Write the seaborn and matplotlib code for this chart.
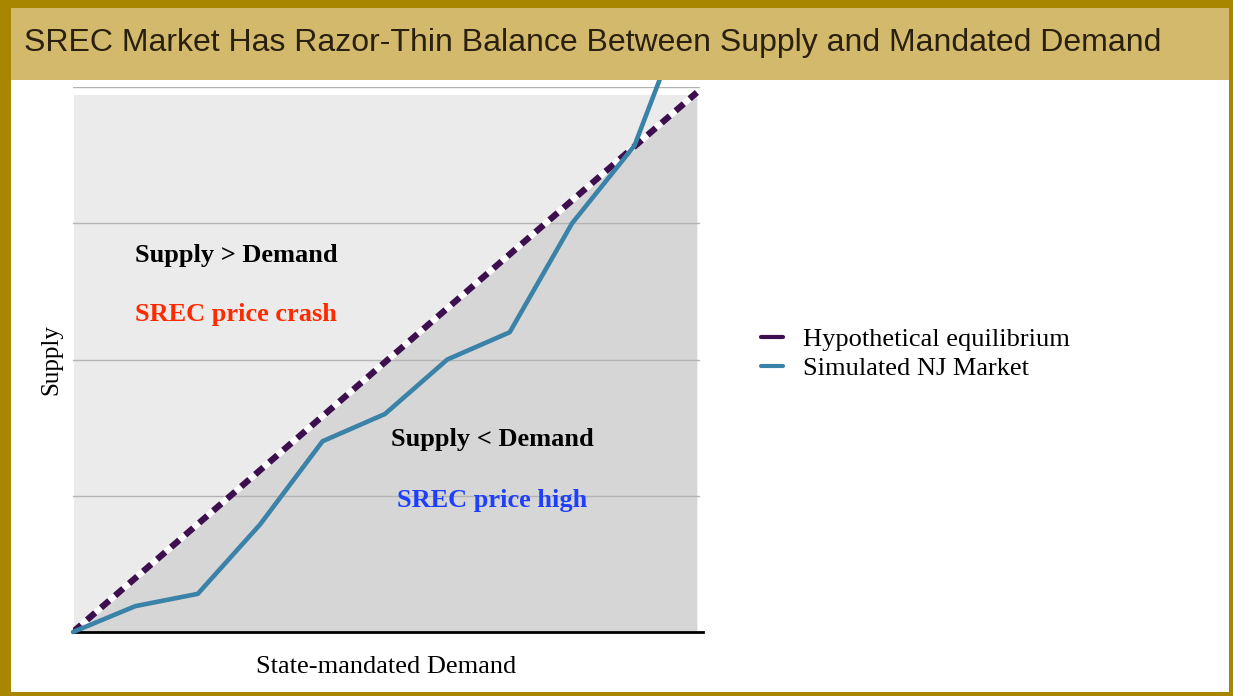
import matplotlib.pyplot as plt
import seaborn as sns
import pandas as pd
from matplotlib.patches import Rectangle
from matplotlib.lines import Line2D

# demand steps (x) and simulated supply (y)
demand = [0, 1, 2, 3, 4, 5, 6, 7, 8, 9, 10]
nj_supply = [0, 0.19, 0.28, 0.79, 1.40, 1.60, 2.0, 2.2, 3.0, 3.57, 4.77]
eq_demand = [0, 10]
eq_supply = [0, 3.96]
grid_levels = [1, 2, 3, 4]

W, H = 1233, 696
PURPLE = '#3d0f4f'
BLUE = '#3b82a8'
GOLD = '#a98600'
BAND = '#d3b96c'

sns.set_theme(style='white')
plt.rcParams['font.family'] = ['Liberation Serif', 'DejaVu Serif']

fig = plt.figure(figsize=(W / 100, H / 100), dpi=100)


def px_rect(x0, y0, x1, y1, color, z):
    # rectangle given in pixel coords (top-left origin)
    r = Rectangle((x0 / W, 1 - y1 / H), (x1 - x0) / W, (y1 - y0) / H,
                  transform=fig.transFigure, facecolor=color, edgecolor='none', zorder=z)
    fig.add_artist(r)


ax = fig.add_axes([73 / W, 1 - 632 / H, (700 - 73) / W, (632 - 87) / H])
ax.set_zorder(1)

# background areas
ax.axhspan(0, 3.94, xmin=0.002, xmax=0.996, color='#ebebeb', zorder=0, lw=0)
ax.fill_between(eq_demand, eq_supply, 0, color='#d6d6d6', zorder=0.5, lw=0)
for g in grid_levels:
    ax.axhline(g, color='#b3b3b3', lw=1, zorder=0.6)

# equilibrium: white under purple dashes
ax.plot(eq_demand, eq_supply, color='white', lw=4.6, zorder=2, solid_capstyle='butt')
sns.lineplot(x=eq_demand, y=eq_supply, ax=ax, color=PURPLE, lw=4.6, zorder=3)
ax.lines[-1].set_dashes((1.7, 1.2))
ax.lines[-1].set_dash_capstyle('butt')

df = pd.DataFrame({'demand': demand, 'supply': nj_supply})
sns.lineplot(data=df, x='demand', y='supply', ax=ax, color=BLUE, lw=3.3, zorder=4)
ax.lines[-1].set_clip_on(False)

ax.set_xlim(0, 10.05)
ax.set_ylim(0, 4)
ax.set_xticks([])
ax.set_yticks([])
for s in ['top', 'right', 'left']:
    ax.spines[s].set_visible(False)
ax.spines['bottom'].set_color('black')
ax.spines['bottom'].set_linewidth(2)
ax.spines['bottom'].set_bounds(0, 10.1)
ax.set_facecolor('none')

ax.set_xlabel('State-mandated Demand', fontsize=19, color='black', labelpad=17)
ax.set_ylabel('Supply', fontsize=18, color='black', labelpad=8)

ax.text(1.0, 2.76, 'Supply > Demand', fontsize=19, fontweight='bold', color='black', va='center')
ax.text(1.0, 2.33, 'SREC price crash', fontsize=19, fontweight='bold', color='#ff2a00', va='center')
ax.text(5.1, 1.41, 'Supply < Demand', fontsize=19, fontweight='bold', color='black', va='center')
ax.text(5.2, 0.965, 'SREC price high', fontsize=19, fontweight='bold', color='#1f3fff', va='center')

handles = [Line2D([], [], color=PURPLE, lw=3), Line2D([], [], color=BLUE, lw=3)]
fig.legend(handles, ['Hypothetical equilibrium', 'Simulated NJ Market'],
           loc='center left', bbox_to_anchor=(750 / W, 1 - 354 / H), frameon=False,
           borderaxespad=0, fontsize=19, handlelength=0.85, handletextpad=0.75,
           labelspacing=0.22, labelcolor='black')

# frame, title band
fig.patch.set_facecolor('white')
px_rect(11, 8, 1229, 80, BAND, 9)
px_rect(0, 0, 11, H, GOLD, 10)
px_rect(0, 0, W, 8, GOLD, 10)
px_rect(1229, 0, W, H, GOLD, 10)
px_rect(0, 692, W, H, GOLD, 10)
fig.text(24 / W, 1 - 43 / H, 'SREC Market Has Razor-Thin Balance Between Supply and Mandated Demand',
         fontsize=23, family=['Liberation Sans', 'DejaVu Sans'], color='#2a2010',
         va='center', ha='left', zorder=11)

fig.savefig('out.png', dpi=100)
